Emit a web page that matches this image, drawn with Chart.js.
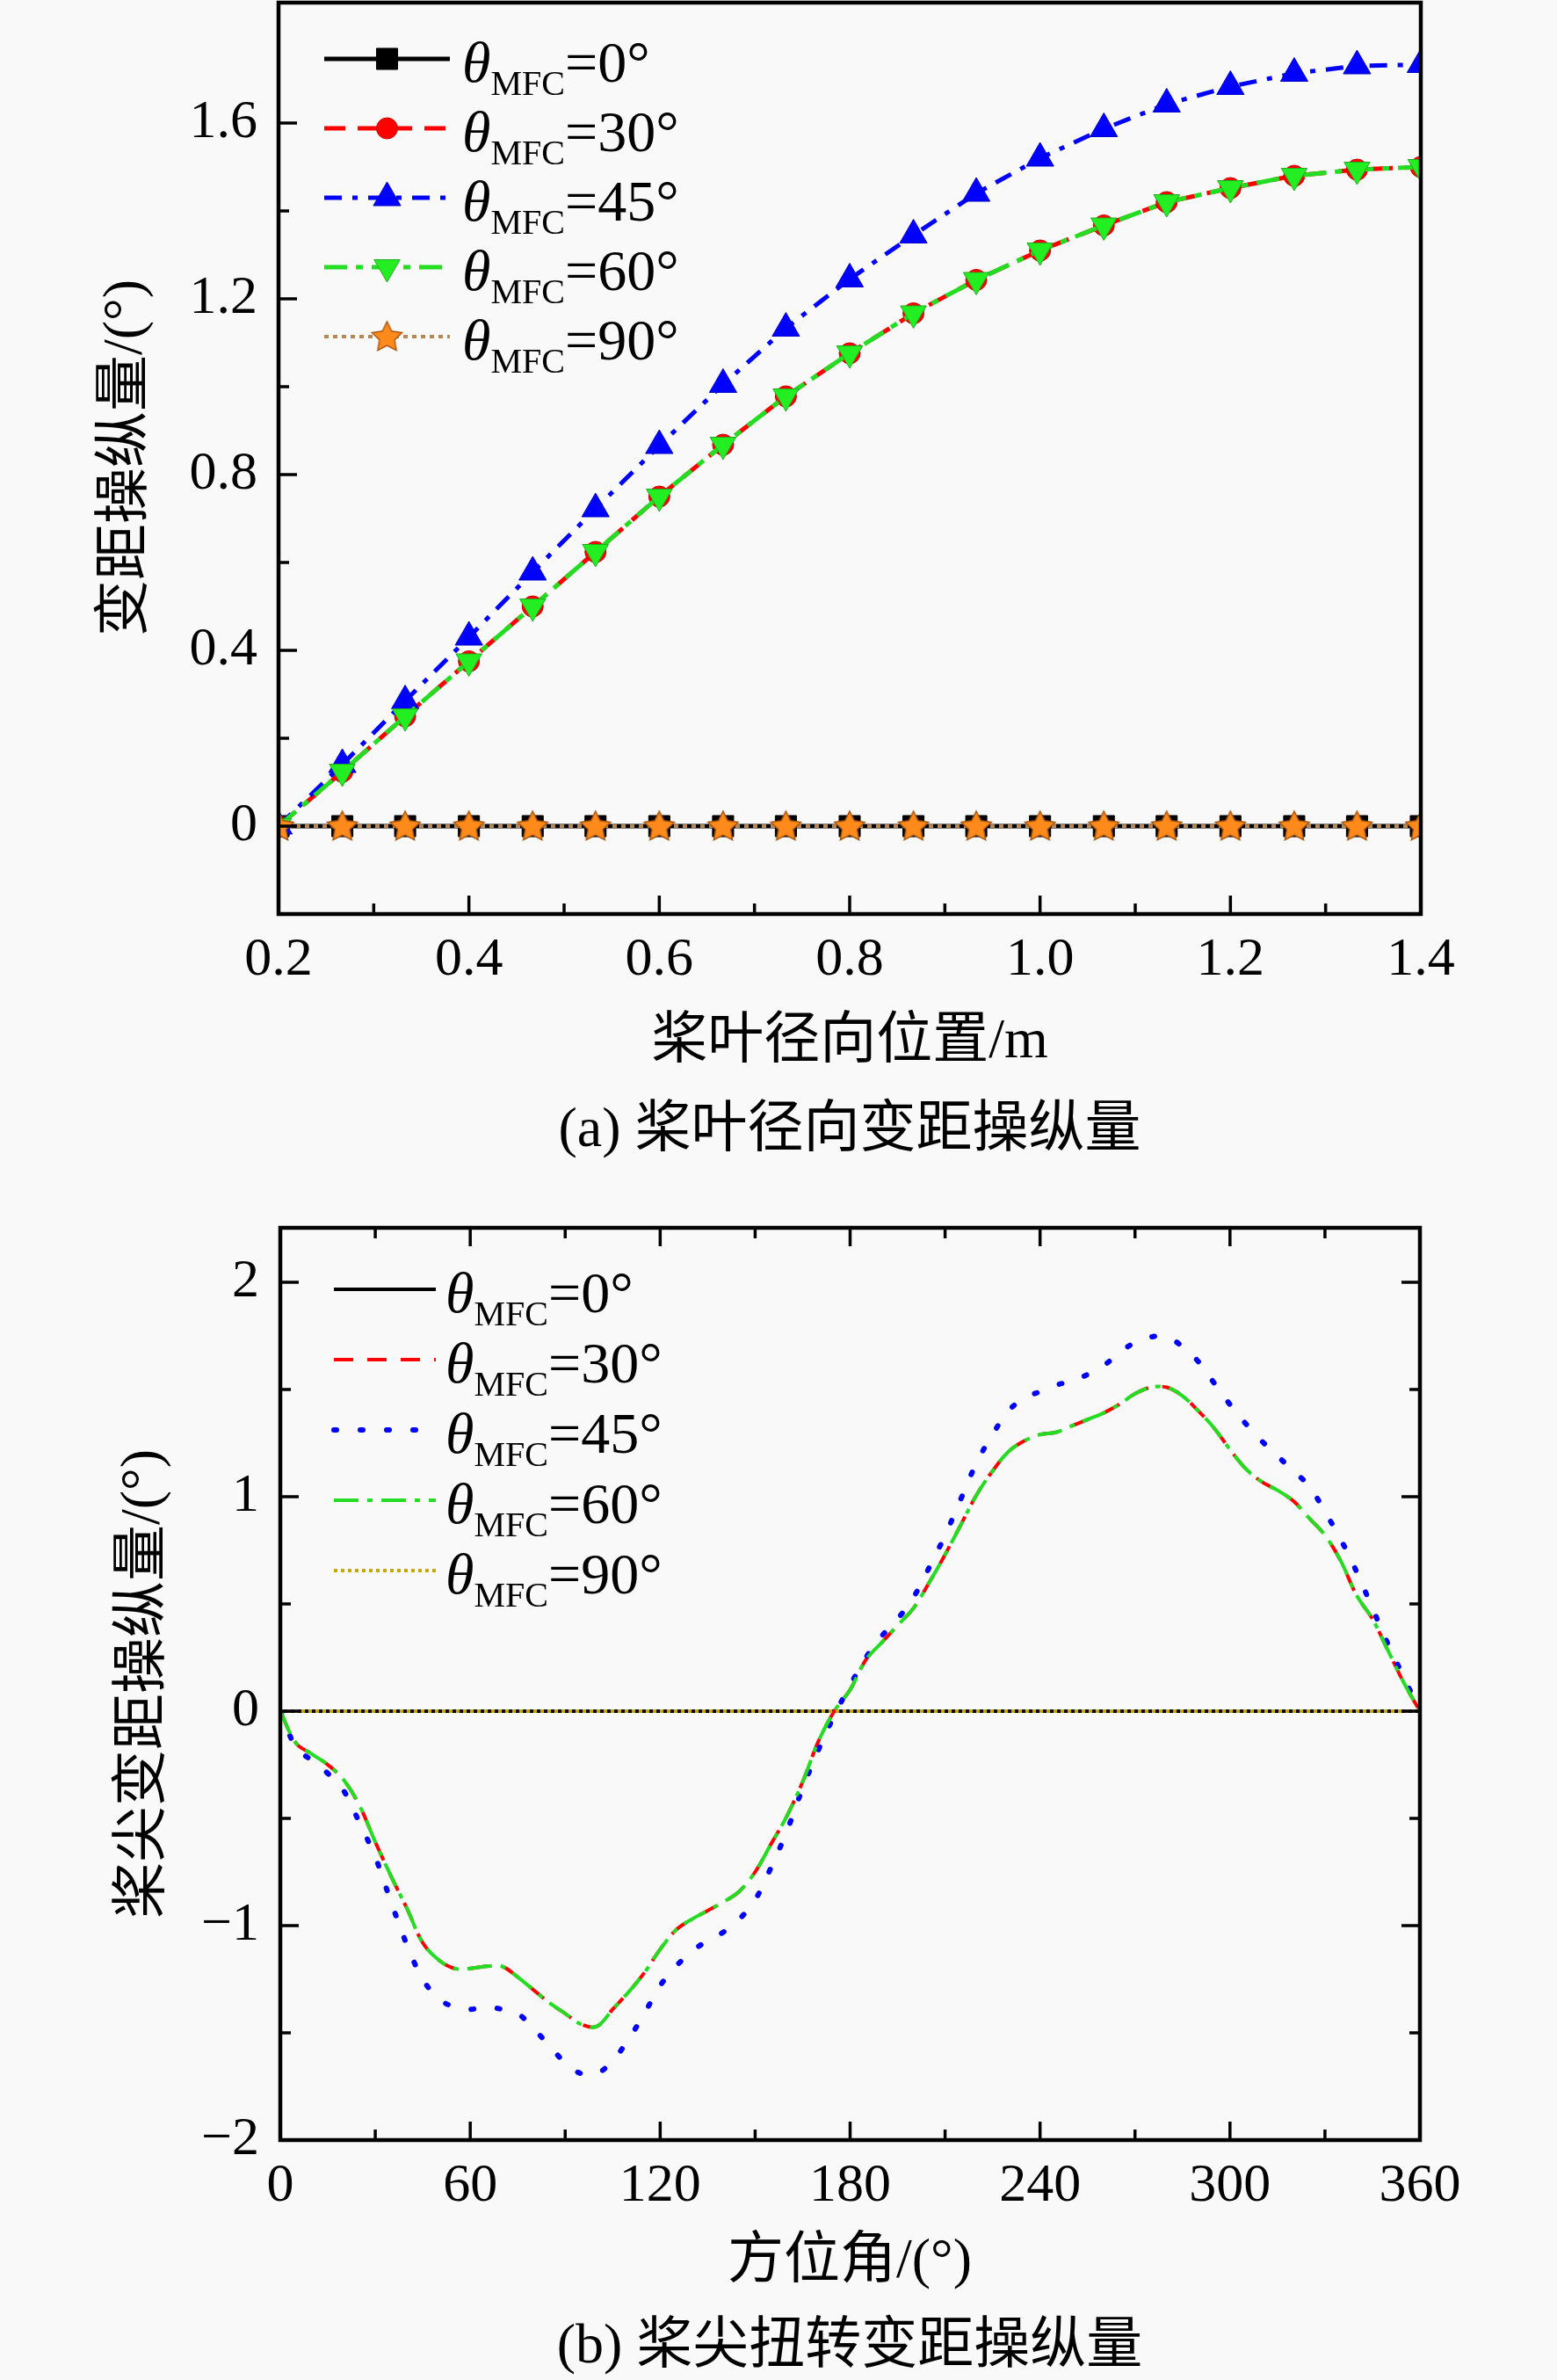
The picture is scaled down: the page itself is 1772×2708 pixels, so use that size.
<!DOCTYPE html>
<html>
<head>
<meta charset="utf-8">
<script src="https://cdn.jsdelivr.net/npm/chart.js@4.4.1/dist/chart.umd.min.js"></script>
<style>
body { margin: 0; background: #f9f9f9; width: 1772px; height: 2708px; position: relative; overflow: hidden;
       font-family: "Liberation Serif", "Noto Sans CJK SC", serif; color: #000; }
canvas { position: absolute; left: 0; }
.t { position: absolute; font-size: 64px; line-height: 1; white-space: nowrap; transform: translate(-50%, -50%); }
.yt { transform: translate(-50%, -50%) rotate(-90deg); }
</style>
</head>
<body>
<canvas id="radialChart" width="1772" height="1150" style="top:0"></canvas>
<canvas id="tipChart" width="1772" height="1180" style="top:1340px"></canvas>
<div class="t yt" style="left:140px;top:521px">变距操纵量/(°)</div>
<div class="t" style="left:967px;top:1182px">桨叶径向位置/m</div>
<div class="t" style="left:967px;top:1283px">(a) 桨叶径向变距操纵量</div>
<div class="t yt" style="left:160px;top:1916px">桨尖变距操纵量/(°)</div>
<div class="t" style="left:967px;top:2570px">方位角/(°)</div>
<div class="t" style="left:967px;top:2667px">(b) 桨尖扭转变距操纵量</div>
<script>
// series names (θMFC)
const seriesNames = ['0°', '30°', '45°', '60°', '90°'];

// (a) radial distribution
const radialPos = [0.2, 0.267, 0.333, 0.4, 0.467, 0.533, 0.6, 0.667, 0.733, 0.8,
                   0.867, 0.933, 1.0, 1.067, 1.133, 1.2, 1.267, 1.333, 1.4];
const radial0 = [0, 0, 0, 0, 0, 0, 0, 0, 0, 0, 0, 0, 0, 0, 0, 0, 0, 0, 0];
const radial30 = [0, 0.124, 0.25, 0.375, 0.5, 0.624, 0.75, 0.868, 0.978, 1.076,
                  1.167, 1.243, 1.31, 1.367, 1.42, 1.452, 1.48, 1.494, 1.5];
const radial45 = [0, 0.14, 0.285, 0.43, 0.578, 0.722, 0.866, 1.005, 1.133, 1.245,
                  1.345, 1.44, 1.52, 1.587, 1.643, 1.683, 1.713, 1.73, 1.733];
const radial60 = [0, 0.124, 0.25, 0.375, 0.5, 0.624, 0.75, 0.868, 0.978, 1.076,
                  1.167, 1.243, 1.31, 1.367, 1.42, 1.452, 1.48, 1.494, 1.5];
const radial90 = [0, 0, 0, 0, 0, 0, 0, 0, 0, 0, 0, 0, 0, 0, 0, 0, 0, 0, 0];
const radialXTicks = [0.2, 0.4, 0.6, 0.8, 1.0, 1.2, 1.4];
const radialXLabels = ['0.2', '0.4', '0.6', '0.8', '1.0', '1.2', '1.4'];
const radialXMinor = [0.3, 0.5, 0.7, 0.9, 1.1, 1.3];
const radialYTicks = [0, 0.4, 0.8, 1.2, 1.6];
const radialYLabels = ['0', '0.4', '0.8', '1.2', '1.6'];
const radialYMinor = [-0.2, 0.2, 0.6, 1.0, 1.4];

// (b) tip pitch vs azimuth
const tipAngles = [0, 5, 10, 15, 20, 25, 30, 35, 40, 45, 50, 55, 60, 65, 70, 75, 80, 85, 90,
                   95, 100, 105, 110, 115, 120, 125, 130, 135, 140, 145, 150, 155, 160, 165, 170, 175, 180,
                   185, 190, 195, 200, 205, 210, 215, 220, 225, 230, 235, 240, 245, 250, 255, 260, 265, 270,
                   275, 280, 285, 290, 295, 300, 305, 310, 315, 320, 325, 330, 335, 340, 345, 350, 355, 360];
const tip0 = [0, 0, 0, 0, 0, 0, 0, 0, 0, 0, 0, 0, 0, 0, 0, 0, 0, 0, 0,
              0, 0, 0, 0, 0, 0, 0, 0, 0, 0, 0, 0, 0, 0, 0, 0, 0, 0,
              0, 0, 0, 0, 0, 0, 0, 0, 0, 0, 0, 0, 0, 0, 0, 0, 0, 0,
              0, 0, 0, 0, 0, 0, 0, 0, 0, 0, 0, 0, 0, 0, 0, 0, 0, 0];
const tip30 = [0, -0.15, -0.20, -0.25, -0.32, -0.44, -0.61, -0.77, -0.92, -1.08, -1.16, -1.20, -1.20, -1.19, -1.19, -1.24, -1.30, -1.36, -1.41,
               -1.46, -1.47, -1.39, -1.31, -1.22, -1.11, -1.02, -0.97, -0.93, -0.89, -0.84, -0.75, -0.62, -0.49, -0.33, -0.14, 0.0, 0.10,
               0.24, 0.32, 0.40, 0.48, 0.60, 0.73, 0.87, 1.01, 1.12, 1.21, 1.26, 1.29, 1.30, 1.33, 1.36, 1.39, 1.43, 1.48,
               1.51, 1.51, 1.47, 1.40, 1.32, 1.22, 1.13, 1.07, 1.03, 0.98, 0.90, 0.82, 0.70, 0.54, 0.43, 0.28, 0.13, 0];
const tip45 = [0, -0.17, -0.23, -0.29, -0.37, -0.52, -0.68, -0.89, -1.09, -1.25, -1.34, -1.38, -1.39, -1.38, -1.39, -1.41, -1.48, -1.56, -1.64,
               -1.69, -1.69, -1.63, -1.53, -1.41, -1.28, -1.19, -1.12, -1.07, -1.03, -0.97, -0.88, -0.73, -0.56, -0.36, -0.18, -0.02, 0.12,
               0.25, 0.35, 0.43, 0.53, 0.67, 0.82, 0.99, 1.16, 1.29, 1.40, 1.46, 1.49, 1.52, 1.54, 1.57, 1.61, 1.67, 1.72,
               1.745, 1.745, 1.70, 1.63, 1.53, 1.43, 1.34, 1.26, 1.19, 1.12, 1.05, 0.93, 0.80, 0.65, 0.48, 0.31, 0.155, 0];
const tip60 = [0, -0.15, -0.20, -0.25, -0.32, -0.44, -0.61, -0.77, -0.92, -1.08, -1.16, -1.20, -1.20, -1.19, -1.19, -1.24, -1.30, -1.36, -1.41,
               -1.46, -1.47, -1.39, -1.31, -1.22, -1.11, -1.02, -0.97, -0.93, -0.89, -0.84, -0.75, -0.62, -0.49, -0.33, -0.14, 0.0, 0.10,
               0.24, 0.32, 0.40, 0.48, 0.60, 0.73, 0.87, 1.01, 1.12, 1.21, 1.26, 1.29, 1.30, 1.33, 1.36, 1.39, 1.43, 1.48,
               1.51, 1.51, 1.47, 1.40, 1.32, 1.22, 1.13, 1.07, 1.03, 0.98, 0.90, 0.82, 0.70, 0.54, 0.43, 0.28, 0.13, 0];
const tip90 = [0, 0, 0, 0, 0, 0, 0, 0, 0, 0, 0, 0, 0, 0, 0, 0, 0, 0, 0,
               0, 0, 0, 0, 0, 0, 0, 0, 0, 0, 0, 0, 0, 0, 0, 0, 0, 0,
               0, 0, 0, 0, 0, 0, 0, 0, 0, 0, 0, 0, 0, 0, 0, 0, 0, 0,
               0, 0, 0, 0, 0, 0, 0, 0, 0, 0, 0, 0, 0, 0, 0, 0, 0, 0];
const tipXTicks = [0, 60, 120, 180, 240, 300, 360];
const tipXLabels = ['0', '60', '120', '180', '240', '300', '360'];
const tipXMinor = [30, 90, 150, 210, 270, 330];
const tipYTicks = [-2, -1, 0, 1, 2];
const tipYLabels = ['\u22122', '\u22121', '0', '1', '2'];
const tipYMinor = [-1.5, -0.5, 0.5, 1.5];

const FONT = '"Liberation Serif", "Noto Sans CJK SC", serif';

function pts(xs, ys) {
    return xs.map((x, i) => ({ x: x, y: ys[i] }));
}

// filled five-point star used as a marker
function makeStar(r, fill, stroke) {
    const c = document.createElement('canvas');
    const s = Math.ceil(r * 2 + 4);
    c.width = c.height = s;
    const g = c.getContext('2d');
    g.beginPath();
    for (let k = 0; k < 10; k++) {
        const rr = k % 2 ? r * 0.5 : r;
        const ang = -Math.PI / 2 + k * Math.PI / 5;
        g.lineTo(s / 2 + rr * Math.cos(ang), s / 2 + 1 + rr * Math.sin(ang));
    }
    g.closePath();
    g.fillStyle = fill;
    g.fill();
    g.strokeStyle = stroke;
    g.lineWidth = 1.5;
    g.stroke();
    return c;
}

// box round the plot and inward tick marks
const frame = {
    id: 'frame',
    afterDatasetsDraw(chart, args, o) {
        const ctx = chart.ctx, a = chart.chartArea;
        const sx = chart.scales.x, sy = chart.scales.y;
        ctx.save();
        ctx.strokeStyle = '#000';
        ctx.lineWidth = 3.5;
        const mark = (p, side, len) => {
            ctx.beginPath();
            if (side === 'b') { ctx.moveTo(p, a.bottom); ctx.lineTo(p, a.bottom - len); }
            if (side === 't') { ctx.moveTo(p, a.top); ctx.lineTo(p, a.top + len); }
            if (side === 'l') { ctx.moveTo(a.left, p); ctx.lineTo(a.left + len, p); }
            if (side === 'r') { ctx.moveTo(a.right, p); ctx.lineTo(a.right - len, p); }
            ctx.stroke();
        };
        const xs = o.mirror ? ['b', 't'] : ['b'];
        const ys = o.mirror ? ['l', 'r'] : ['l'];
        o.xMajor.forEach(v => xs.forEach(s => mark(sx.getPixelForValue(v), s, 21)));
        o.xMinor.forEach(v => xs.forEach(s => mark(sx.getPixelForValue(v), s, 12)));
        o.yMajor.forEach(v => ys.forEach(s => mark(sy.getPixelForValue(v), s, 21)));
        o.yMinor.forEach(v => ys.forEach(s => mark(sy.getPixelForValue(v), s, 12)));
        ctx.lineWidth = 4.5;
        ctx.strokeRect(a.left, a.top, a.right - a.left, a.bottom - a.top);
        ctx.restore();
    }
};

// legend with θ and subscript MFC
const mfcLegend = {
    id: 'mfcLegend',
    afterDraw(chart, args, o) {
        const ctx = chart.ctx;
        chart.data.datasets.forEach((ds, i) => {
            const yy = o.y0 + i * o.dy;
            ctx.save();
            ctx.strokeStyle = ds.borderColor;
            ctx.lineWidth = ds.borderWidth;
            ctx.lineCap = ds.borderCapStyle || 'butt';
            ctx.setLineDash(ds.borderDash || []);
            ctx.beginPath();
            ctx.moveTo(o.x1, yy);
            ctx.lineTo(o.x2, yy);
            ctx.stroke();
            ctx.setLineDash([]);
            if (o.markers && ds.pointRadius > 0 && Chart.helpers && Chart.helpers.drawPoint) {
                ctx.fillStyle = ds.pointBackgroundColor;
                ctx.strokeStyle = ds.pointBorderColor;
                ctx.lineWidth = ds.pointBorderWidth;
                Chart.helpers.drawPoint(ctx, {
                    pointStyle: ds.pointStyle, rotation: ds.pointRotation || 0,
                    radius: ds.pointRadius, borderWidth: ds.pointBorderWidth
                }, (o.x1 + o.x2) / 2, yy);
            }
            ctx.fillStyle = '#000';
            ctx.textBaseline = 'alphabetic';
            ctx.textAlign = 'left';
            let tx = o.tx;
            ctx.font = 'italic 66px ' + FONT;
            ctx.fillText('θ', tx, yy + 26);
            tx += ctx.measureText('θ').width;
            ctx.font = '40px ' + FONT;
            ctx.fillText('MFC', tx, yy + 41);
            tx += ctx.measureText('MFC').width;
            ctx.font = '66px ' + FONT;
            ctx.fillText('=' + seriesNames[i], tx, yy + 26);
            ctx.restore();
        });
    }
};

function fixedScale(w, h) {
    return function (s) {
        if (w !== null) s.width = w;
        if (h !== null) s.height = h;
        s.paddingTop = 0; s.paddingBottom = 0; s.paddingLeft = 0; s.paddingRight = 0;
    };
}

function axisOpts(min, max, tickVals, tickLabels, isX, size, pad) {
    return {
        type: 'linear',
        min: min,
        max: max,
        afterBuildTicks: s => { s.ticks = tickVals.map(v => ({ value: v })); },
        afterFit: isX ? fixedScale(null, size) : fixedScale(size, null),
        grid: { display: false, drawTicks: false },
        border: { display: false },
        ticks: {
            autoSkip: false, maxRotation: 0, padding: pad, color: '#000',
            font: { family: FONT, size: 62 },
            callback: (v, i) => tickLabels[i]
        }
    };
}

const star = makeStar(18, '#FF8A1C', '#A8560E');

// (a) radial chart
new Chart(document.getElementById('radialChart'), {
    type: 'line',
    data: {
        datasets: [
            { label: seriesNames[0], data: pts(radialPos, radial0), borderColor: '#000000', borderWidth: 5,
              pointStyle: 'rect', pointRadius: 17, pointBackgroundColor: '#000000', pointBorderColor: '#000000', pointBorderWidth: 1, order: 5 },
            { label: seriesNames[1], data: pts(radialPos, radial30), borderColor: '#FF0000', borderWidth: 5, borderDash: [24, 14],
              pointStyle: 'circle', pointRadius: 12, pointBackgroundColor: '#FF0000', pointBorderColor: '#CC0000', pointBorderWidth: 1, order: 4 },
            { label: seriesNames[2], data: pts(radialPos, radial45), borderColor: '#0000FF', borderWidth: 5, borderDash: [20, 12, 6, 12],
              pointStyle: 'triangle', pointRadius: 18, pointBackgroundColor: '#0000FF', pointBorderColor: '#0000CC', pointBorderWidth: 1, order: 3 },
            { label: seriesNames[3], data: pts(radialPos, radial60), borderColor: '#22DD22', borderWidth: 5, borderDash: [26, 10, 8, 10],
              pointStyle: 'triangle', pointRotation: 180, pointRadius: 17, pointBackgroundColor: '#22EE22', pointBorderColor: '#22AA22', pointBorderWidth: 1, order: 2 },
            { label: seriesNames[4], data: pts(radialPos, radial90), borderColor: '#B8874F', borderWidth: 4, borderDash: [5, 5],
              pointStyle: star, pointRadius: 18, pointBackgroundColor: '#FF8A1C', pointBorderColor: '#A8560E', pointBorderWidth: 1, order: 1 }
        ]
    },
    options: {
        responsive: false, animation: false, devicePixelRatio: 1, events: [],
        layout: { autoPadding: false, padding: { top: 3, right: 155, left: 0, bottom: 0 } },
        elements: { line: { tension: 0 } },
        scales: {
            x: axisOpts(0.2, 1.4, radialXTicks, radialXLabels, true, 110, 16),
            y: axisOpts(-0.2, 1.874, radialYTicks, radialYLabels, false, 317, 24)
        },
        plugins: {
            legend: { display: false }, tooltip: { enabled: false },
            frame: { mirror: false, xMajor: radialXTicks, xMinor: radialXMinor, yMajor: radialYTicks, yMinor: radialYMinor },
            mfcLegend: { x1: 369, x2: 512, tx: 526, y0: 67, dy: 79, markers: true }
        }
    },
    plugins: [frame, mfcLegend]
});

// (b) tip chart
new Chart(document.getElementById('tipChart'), {
    type: 'line',
    data: {
        datasets: [
            { label: seriesNames[0], data: pts(tipAngles, tip0), borderColor: '#000000', borderWidth: 4, pointRadius: 0, order: 5 },
            { label: seriesNames[1], data: pts(tipAngles, tip30), borderColor: '#FF0000', borderWidth: 4, borderDash: [22, 16],
              pointRadius: 0, tension: 0.35, order: 4 },
            { label: seriesNames[2], data: pts(tipAngles, tip45), borderColor: '#0000FF', borderWidth: 6, borderDash: [3, 27],
              borderCapStyle: 'round', pointRadius: 0, tension: 0.35, order: 3 },
            { label: seriesNames[3], data: pts(tipAngles, tip60), borderColor: '#22DD22', borderWidth: 4, borderDash: [28, 10, 6, 10],
              pointRadius: 0, tension: 0.35, order: 2 },
            { label: seriesNames[4], data: pts(tipAngles, tip90), borderColor: '#C8A800', borderWidth: 4, borderDash: [4, 4],
              pointRadius: 0, order: 1 }
        ]
    },
    options: {
        responsive: false, animation: false, devicePixelRatio: 1, events: [],
        layout: { autoPadding: false, padding: { top: 57, right: 156, left: 0, bottom: 0 } },
        scales: {
            x: axisOpts(0, 360, tipXTicks, tipXLabels, true, 85, 16),
            y: axisOpts(-2, 2.254, tipYTicks, tipYLabels, false, 319, 24)
        },
        plugins: {
            legend: { display: false }, tooltip: { enabled: false },
            frame: { mirror: true, xMajor: tipXTicks, xMinor: tipXMinor, yMajor: tipYTicks, yMinor: tipYMinor },
            mfcLegend: { x1: 380, x2: 496, tx: 507, y0: 127, dy: 80, markers: false }
        }
    },
    plugins: [frame, mfcLegend]
});
</script>
</body>
</html>
